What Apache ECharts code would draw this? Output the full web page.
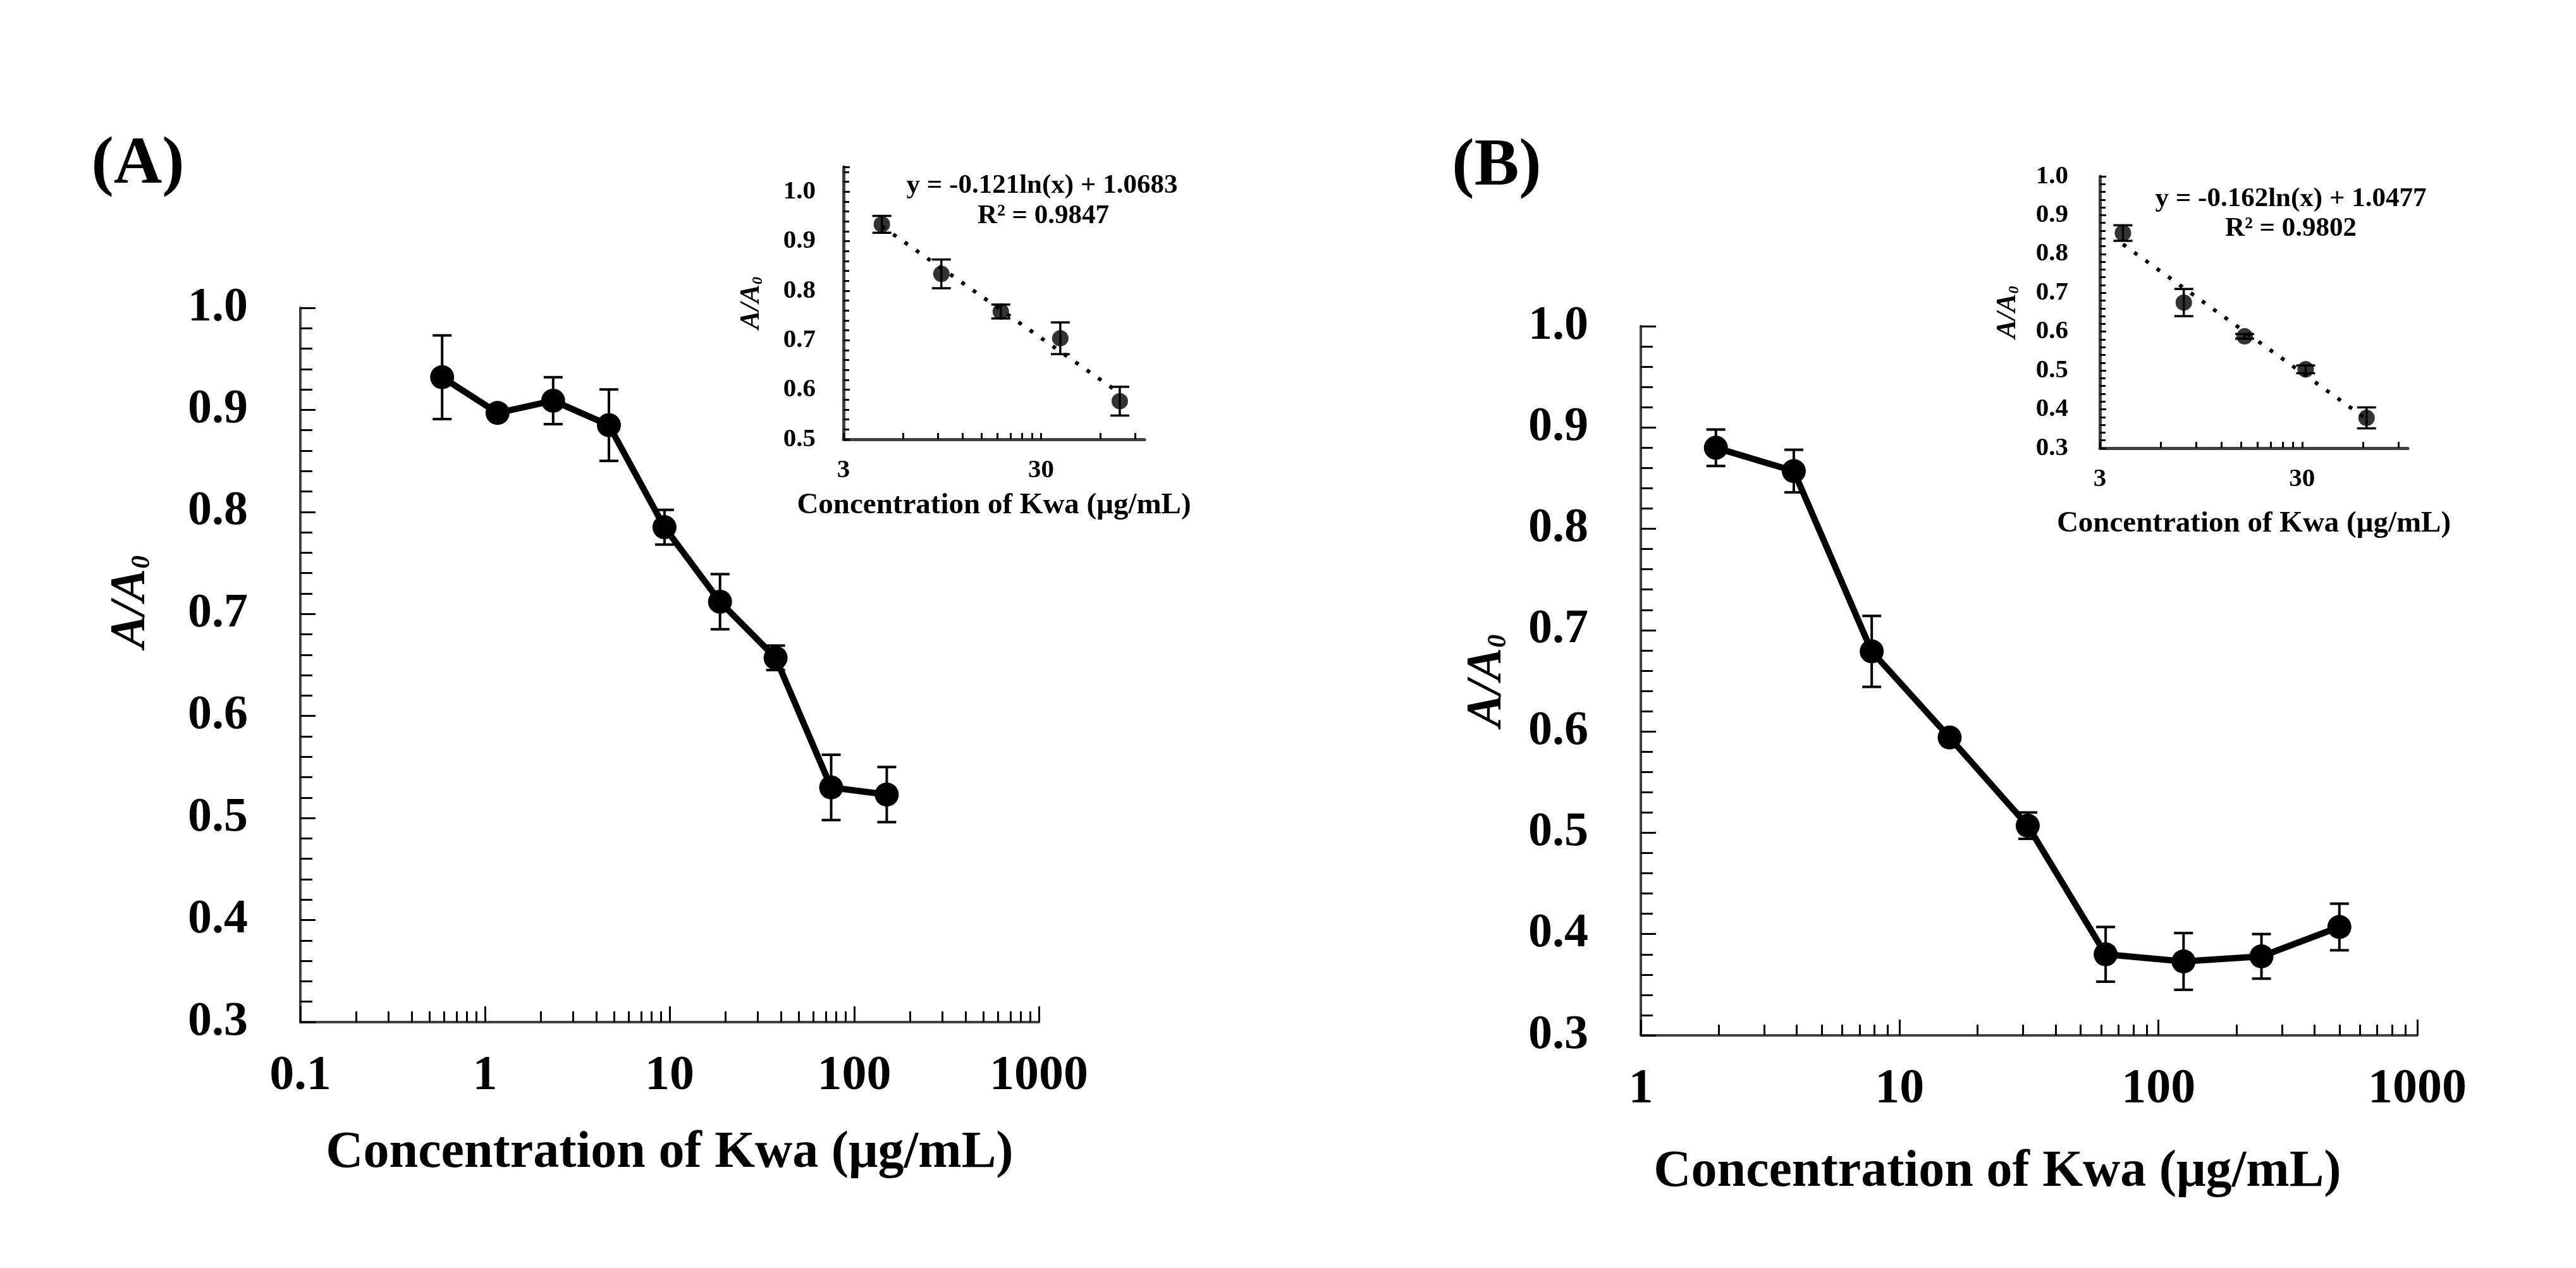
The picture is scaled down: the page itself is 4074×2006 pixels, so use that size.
<!DOCTYPE html>
<html>
<head>
<meta charset="utf-8">
<script src="https://cdn.jsdelivr.net/npm/echarts@6/dist/echarts.min.js"></script>
<style>
  html, body { margin: 0; padding: 0; background: #fff; }
  #main { width: 4074px; height: 2006px; }
</style>
</head>
<body>
<div id="main"></div>
<script>
// panel A (main curve)
var concA = [0.586, 1.17, 2.34, 4.69, 9.38, 18.75, 37.5, 75, 150]
var ratioA = [0.932, 0.897, 0.909, 0.885, 0.785, 0.712, 0.657, 0.530, 0.523]
var errA = [0.041, 0.005, 0.023, 0.035, 0.017, 0.027, 0.012, 0.032, 0.027]
// panel B (main curve)
var concB = [1.95, 3.9, 7.8, 15.6, 31.25, 62.5, 125, 250, 500]
var ratioB = [0.880, 0.857, 0.679, 0.594, 0.507, 0.380, 0.373, 0.378, 0.407]
var errB = [0.018, 0.021, 0.035, 0.005, 0.013, 0.027, 0.028, 0.022, 0.023]
// insets (linear range)
var insetConcA = [4.69, 9.38, 18.75, 37.5, 75]
var insetRatioA = [0.934, 0.834, 0.758, 0.704, 0.577]
var insetErrA = [0.017, 0.029, 0.014, 0.032, 0.029]
var trendA = [[4.69, 0.930], [75, 0.593]]
var insetConcB = [3.9, 7.8, 15.6, 31.25, 62.5]
var insetRatioB = [0.854, 0.675, 0.588, 0.503, 0.378]
var insetErrB = [0.020, 0.035, 0.006, 0.010, 0.027]
var trendB = [[3.9, 0.825], [62.5, 0.375]]
// tick labels
var xTicksA = [0.1, 1, 10, 100, 1000]
var xTicksB = [1, 10, 100, 1000]
var insetXLabels = [3, 30]
var insetXTicks = [3, 6, 9, 12, 15, 18, 21, 24, 27, 30, 60, 90]
var eqA = ['y = -0.121ln(x) + 1.0683', 'R\u00b2 = 0.9847']
var eqB = ['y = -0.162ln(x) + 1.0477', 'R\u00b2 = 0.9802']
var xTitle = 'Concentration of Kwa (\u03bcg/mL)'

var FONT = '"Liberation Serif", "Times New Roman", serif'
var AXIS_COLOR = '#404040'

function minorTicks (decades) {
  var res = []
  decades.slice(0, -1).forEach(function (d) {
    for (var k = 2; k <= 9; k++) res.push(+(d * k).toPrecision(6))
  })
  return res
}

function zip (xs, ys, es) {
  return xs.map(function (x, i) { return es ? [x, ys[i], es[i]] : [x, ys[i]] })
}

function errorBars (capHalf, lw) {
  return function (params, api) {
    var x = api.value(0), y = api.value(1), e = api.value(2)
    var top = api.coord([x, y + e])
    var bot = api.coord([x, y - e])
    var st = { stroke: '#000', lineWidth: lw }
    return {
      type: 'group',
      children: [
        { type: 'line', shape: { x1: top[0], y1: top[1], x2: bot[0], y2: bot[1] }, style: st },
        { type: 'line', shape: { x1: top[0] - capHalf, y1: top[1], x2: top[0] + capHalf, y2: top[1] }, style: st },
        { type: 'line', shape: { x1: bot[0] - capHalf, y1: bot[1], x2: bot[0] + capHalf, y2: bot[1] }, style: st }
      ]
    }
  }
}

function yName (big, small, gap, pad) {
  return {
    name: '{m|A/A}{s|0}',
    nameLocation: 'middle',
    nameRotate: 90,
    nameGap: gap,
    nameTextStyle: {
      verticalAlign: 'middle',
      padding: pad || 0,
      rich: {
        m: { fontSize: big, fontStyle: 'italic', fontWeight: 'bold', fontFamily: FONT, color: '#000' },
        s: { fontSize: small, fontStyle: 'italic', fontWeight: 'bold', fontFamily: FONT, color: '#000', verticalAlign: 'bottom' }
      }
    }
  }
}

function mainY (grid, gap, pad) {
  return Object.assign({
    type: 'value', gridIndex: grid, min: 0.3, max: 1.0, interval: 0.1,
    splitLine: { show: false },
    axisLine: { show: true, onZero: false, lineStyle: { color: AXIS_COLOR, width: 4 } },
    axisTick: { show: true, inside: true, length: 24, lineStyle: { color: '#000', width: 3 } },
    minorTick: { show: true, splitNumber: 5, length: 19, lineStyle: { color: '#000', width: 3 } },
    axisLabel: {
      margin: 83, fontSize: 76, fontWeight: 'bold', fontFamily: FONT, color: '#000',
      formatter: function (v) { return v.toFixed(1) }
    }
  }, yName(78, 42, gap, pad))
}

function mainX (grid, min, labels, gap, pad) {
  return {
    type: 'log', logBase: 10, gridIndex: grid, min: min, max: 1000, position: 'bottom',
    splitLine: { show: false },
    axisLine: { show: true, onZero: false, lineStyle: { color: AXIS_COLOR, width: 4 } },
    axisTick: { show: true, inside: true, length: 25, customValues: labels, lineStyle: { color: '#000', width: 3 } },
    axisLabel: {
      margin: 86, verticalAlign: 'middle', fontSize: 78, fontWeight: 'bold', fontFamily: FONT, color: '#000',
      customValues: labels,
      formatter: function (v) { return String(+(+v).toPrecision(6)) }
    },
    name: xTitle, nameLocation: 'middle', nameGap: gap,
    nameTextStyle: { fontSize: 82, fontWeight: 'bold', fontFamily: FONT, color: '#000', verticalAlign: 'middle', padding: pad || 0 }
  }
}

function minorX (grid, min, decades) {
  return {
    type: 'log', logBase: 10, gridIndex: grid, min: min, max: 1000, position: 'bottom',
    splitLine: { show: false },
    axisLine: { show: false, onZero: false },
    axisTick: { show: true, inside: true, length: 17, customValues: minorTicks(decades), lineStyle: { color: '#000', width: 3 } },
    axisLabel: { show: false }
  }
}

function insetX (grid, gap) {
  return {
    type: 'log', logBase: 10, gridIndex: grid, min: 3, max: 100, position: 'bottom',
    splitLine: { show: false },
    axisLine: { show: true, onZero: false, lineStyle: { color: AXIS_COLOR, width: 5 } },
    axisTick: { show: true, inside: true, length: 10, customValues: insetXTicks, lineStyle: { color: '#000', width: 3 } },
    axisLabel: {
      margin: 49, verticalAlign: 'middle', fontSize: 41, fontWeight: 'bold', fontFamily: FONT, color: '#000',
      customValues: insetXLabels,
      formatter: function (v) { return String(Math.round(v)) }
    },
    name: xTitle, nameLocation: 'middle', nameGap: gap,
    nameTextStyle: { fontSize: 47, fontWeight: 'bold', fontFamily: FONT, color: '#000', verticalAlign: 'middle' }
  }
}

function insetY (grid, min, max, margin) {
  return Object.assign({
    type: 'value', gridIndex: grid, min: min, max: max, interval: 0.1,
    splitLine: { show: false },
    axisLine: { show: true, onZero: false, lineStyle: { color: AXIS_COLOR, width: 5 } },
    axisTick: { show: true, inside: true, length: 10, lineStyle: { color: '#000', width: 3 } },
    minorTick: { show: true, splitNumber: 5, length: 9, lineStyle: { color: '#000', width: 3 } },
    axisLabel: {
      margin: margin, fontSize: 41, fontWeight: 'bold', fontFamily: FONT, color: '#000',
      showMaxLabel: max === 1.0,
      formatter: function (v) { return v.toFixed(1) }
    }
  }, yName(44, 24, 145))
}

function curve (xi, yi, xs, ys) {
  return {
    type: 'line', xAxisIndex: xi, yAxisIndex: yi, data: zip(xs, ys),
    symbol: 'circle', symbolSize: 38, showSymbol: true,
    lineStyle: { color: '#000', width: 10 }, itemStyle: { color: '#000' },
    z: 3, silent: true
  }
}

function bars (xi, yi, xs, ys, es, capHalf, lw) {
  return {
    type: 'custom', xAxisIndex: xi, yAxisIndex: yi, data: zip(xs, ys, es),
    encode: { x: 0, y: 1 }, renderItem: errorBars(capHalf, lw), z: 2, silent: true
  }
}

function points (xi, yi, xs, ys) {
  return {
    type: 'scatter', xAxisIndex: xi, yAxisIndex: yi, data: zip(xs, ys),
    symbol: 'circle', symbolSize: 26, itemStyle: { color: '#000' }, z: 3, silent: true
  }
}

function trend (xi, yi, pts) {
  return {
    type: 'line', xAxisIndex: xi, yAxisIndex: yi, data: pts, showSymbol: false, symbol: 'none',
    lineStyle: { color: '#000', width: 6, type: [6, 16] }, z: 1, silent: true
  }
}

function label (text, x, y, size) {
  return {
    type: 'text', x: x, y: y,
    style: { text: text, fill: '#000', fontSize: size, fontWeight: 'bold', fontFamily: FONT, align: 'center', verticalAlign: 'middle' }
  }
}

var option = {
  backgroundColor: '#fff',
  animation: false,
  grid: [
    { left: 475, top: 487, width: 1168, height: 1130 },
    { left: 1334, top: 264, width: 476, height: 431 },
    { left: 2595, top: 516, width: 1228, height: 1122 },
    { left: 3321, top: 279, width: 487, height: 430 }
  ],
  xAxis: [
    mainX(0, 0.1, xTicksA, 208),
    minorX(0, 0.1, xTicksA),
    insetX(1, 105),
    mainX(2, 1, xTicksB, 217, [0, 100, 0, 0]),
    minorX(2, 1, xTicksB),
    insetX(3, 120)
  ],
  yAxis: [
    mainY(0, 268, [0, 0, 0, 200]),
    insetY(1, 0.5, 1.05, 44),
    mainY(2, 243),
    insetY(3, 0.3, 1.0, 50)
  ],
  series: [
    bars(0, 0, concA, ratioA, errA, 15, 4),
    curve(0, 0, concA, ratioA),
    trend(2, 1, trendA),
    bars(2, 1, insetConcA, insetRatioA, insetErrA, 15, 3.5),
    points(2, 1, insetConcA, insetRatioA),
    bars(3, 2, concB, ratioB, errB, 15, 4),
    curve(3, 2, concB, ratioB),
    trend(5, 3, trendB),
    bars(5, 3, insetConcB, insetRatioB, insetErrB, 15, 3.5),
    points(5, 3, insetConcB, insetRatioB)
  ],
  graphic: [
    label('(A)', 218, 262, 106),
    label('(B)', 2367, 265, 106),
    label(eqA[0], 1648, 294, 43),
    label(eqA[1], 1650, 342, 43),
    label(eqB[0], 3623, 315, 43),
    label(eqB[1], 3623, 362, 43)
  ]
}

var myChart = echarts.init(document.getElementById('main'))
myChart.setOption(option)
</script>
</body>
</html>
